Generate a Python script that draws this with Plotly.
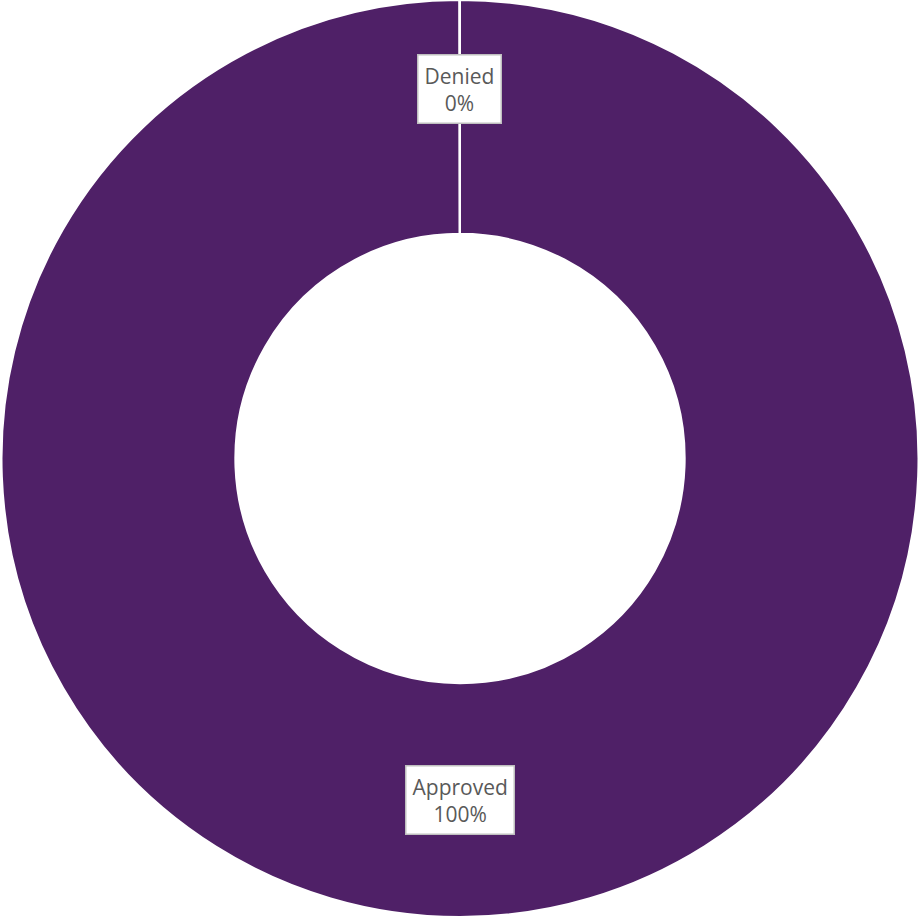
import numpy as np
import plotly.graph_objects as go

labels = ["Approved", "Denied"]
values = [100.0, 0.02]

PURPLE = "#4F2067"
W, H = 920, 917
HOLE = 0.49

fig = go.Figure(go.Pie(
    labels=labels, values=values, hole=HOLE, sort=False,
    direction="clockwise", rotation=0,
    marker=dict(colors=[PURPLE, PURPLE], line=dict(color="white", width=2)),
    textinfo="none", hoverinfo="label+percent", showlegend=False,
    domain=dict(x=[0, 1], y=[0, 1]),
))

vals = np.array(values)
frac = vals / vals.sum()
mids = np.cumsum(frac) - frac / 2
R = min(W, H) / 2
rmid = (HOLE + 1) / 2 * R
extra = {"Denied": 28}
for lab, f, m in zip(labels, frac, mids):
    th = 2 * np.pi * m
    r = rmid + extra.get(lab, 0)
    x = 0.5 + r * np.sin(th) / W
    y = 0.5 + r * np.cos(th) / H
    fig.add_annotation(
        x=x, y=y, xref="paper", yref="paper", showarrow=False,
        xanchor="center", yanchor="middle",
        text=f"{lab}<br>{f*100:.0f}%", align="center",
        font=dict(family="Open Sans, sans-serif", size=21, color="#595959"),
        bgcolor="white", bordercolor="#BFBFBF", borderwidth=1.5, borderpad=6,
    )

fig.update_layout(width=W, height=H, margin=dict(l=0, r=0, t=0, b=0),
                  paper_bgcolor="white", plot_bgcolor="white")
fig.write_html("out.html", config={"displayModeBar": False},
               post_script="document.body.style.margin='0';")
